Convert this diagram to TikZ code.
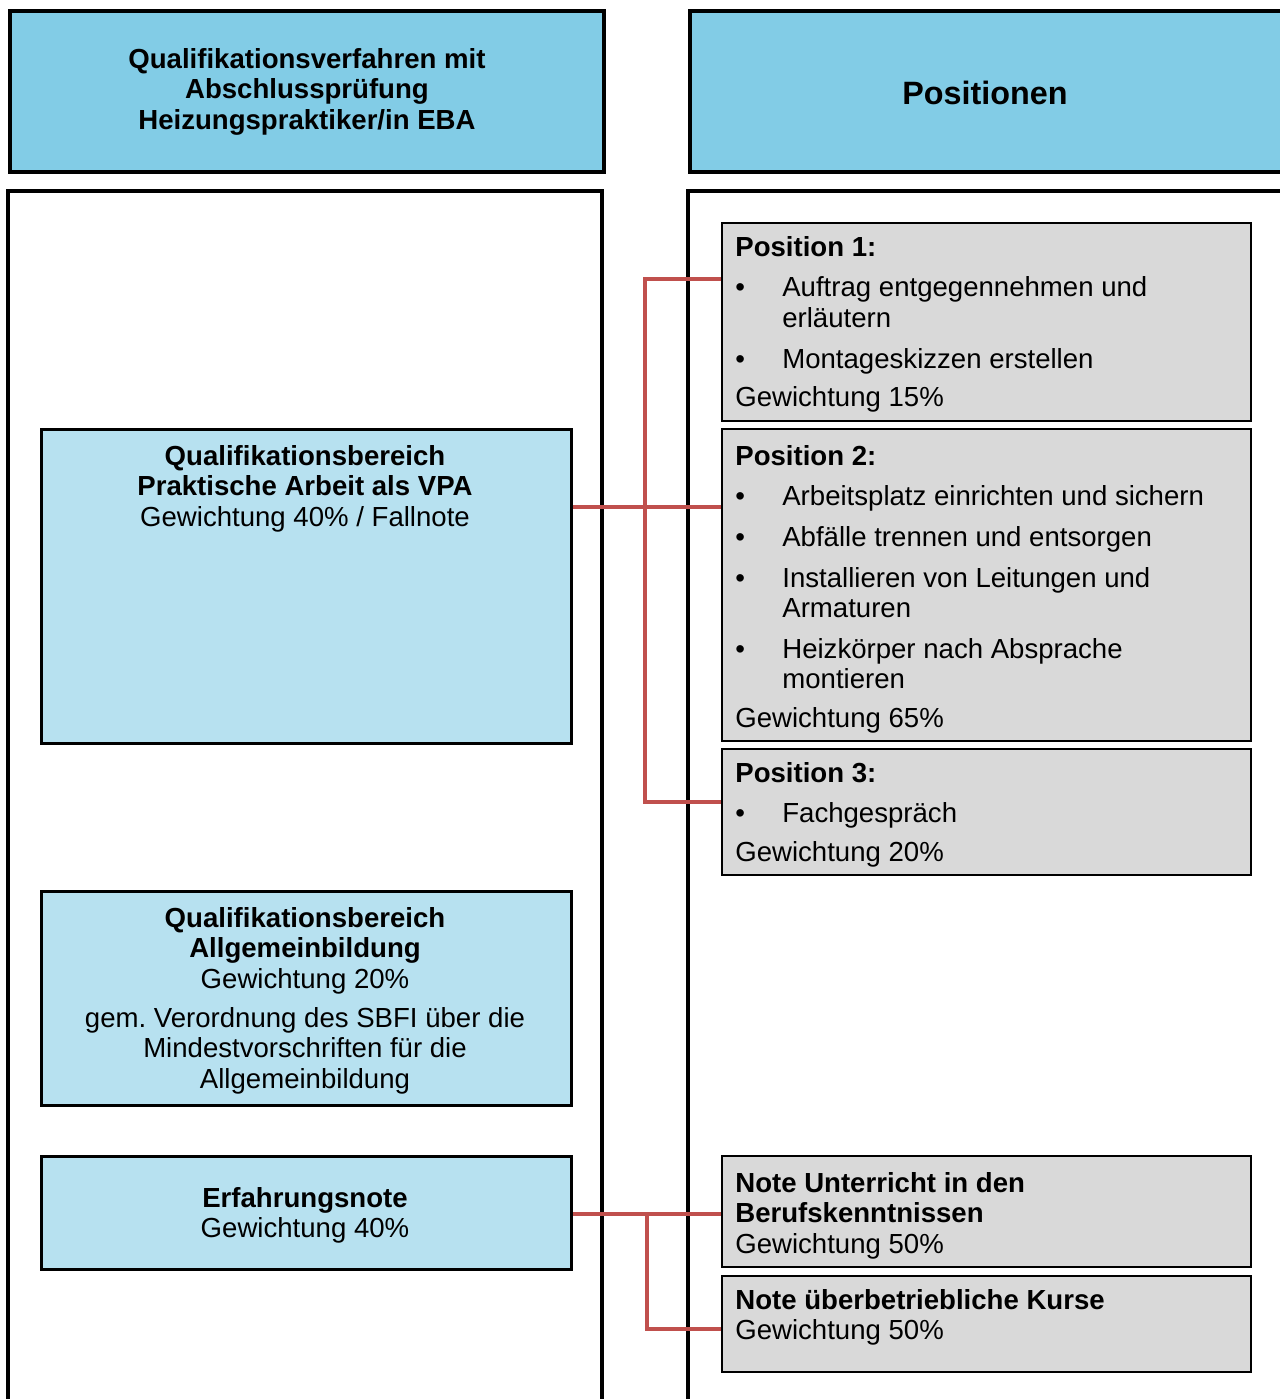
\documentclass[tikz,border=0pt]{standalone}
\usepackage{fontspec}
\setmainfont{Liberation Sans}
\frenchspacing
\definecolor{headblue}{RGB}{130,204,230}
\definecolor{boxblue}{RGB}{183,225,240}
\definecolor{posgray}{RGB}{217,217,217}
\definecolor{linkred}{RGB}{192,80,77}
\newcommand{\bul}{\makebox[0.94cm][l]{\textbullet}}
\newcommand{\ind}{\hspace*{0.94cm}}
\begin{document}
\begin{tikzpicture}[x = {(0.02cm,0cm)},
                    y = {(0cm,-0.02cm)},
                    line join = miter,
                    font = \fontsize{15.7}{17.4}\selectfont]
% styles of boxes
\tikzset{headstyle/.style={draw=black,line width=2.3pt,fill=headblue,anchor=north west,inner sep=0pt,align=center,font=\bfseries\fontsize{15.7}{17.4}\selectfont}}
\tikzset{bluestyle/.style={draw=black,line width=1.7pt,fill=boxblue,anchor=north west,inner sep=0pt,minimum width=10.6cm}}
\tikzset{graystyle/.style={draw=black,line width=1.1pt,fill=posgray,anchor=north west,inner sep=0pt,minimum width=10.58cm}}
\tikzset{textstyle/.style={inner sep=0pt,align=left,anchor=north west}}
\tikzset{midtext/.style={inner sep=0pt,align=center,anchor=north}}
\tikzset{linkstyle/.style={draw=linkred,line width=2.1pt}}
\useasboundingbox (0,0) rectangle (1279,1399);

%columns
\draw [black, line width=2.3pt] (8,1420) -- (8,191) -- (602,191) -- (602,1420);
\draw [black, line width=2.3pt] (688,1420) -- (688,191) -- (1300,191);

%headers
\node[headstyle, minimum width=11.88cm, minimum height=3.22cm] (H1) at (8,9)
  {Qualifikationsverfahren mit\\Abschlussprüfung\\Heizungspraktiker/in EBA};
\node[headstyle, minimum width=12.3cm, minimum height=3.22cm] (H2) at (688,9) {};
\node[inner sep=0pt, font=\bfseries\fontsize{18.4}{21}\selectfont] (H2txt) at (985,93) {Positionen};

%qualification areas
\node[bluestyle, minimum height=6.28cm] (Q1) at (40,428) {};
\node[bluestyle, minimum height=4.28cm] (Q2) at (40,890) {};
\node[bluestyle, minimum height=2.26cm] (Q3) at (40,1155) {};
\node[midtext] (Q1txt) at (305,445)
  {\textbf{Qualifikationsbereich}\\\textbf{Praktische Arbeit als VPA}\\Gewichtung 40\% / Fallnote};
\node[midtext] (Q2txt) at (305,907)
  {\textbf{Qualifikationsbereich}\\\textbf{Allgemeinbildung}\\Gewichtung 20\%\\[0.16cm]
   gem. Verordnung des SBFI über die\\Mindestvorschriften für die\\Allgemeinbildung};
\node[midtext] (Q3txt) at (305,1187)
  {\textbf{Erfahrungsnote}\\Gewichtung 40\%};

%positions
\node[graystyle, minimum height=3.96cm] (P1) at (721,222) {};
\node[graystyle, minimum height=6.24cm] (P2) at (721,428) {};
\node[graystyle, minimum height=2.52cm] (P3) at (721,748) {};
\node[graystyle, minimum height=2.22cm] (N1) at (721,1155) {};
\node[graystyle, minimum height=1.92cm] (N2) at (721,1275) {};
\node[textstyle] (P1txt) at (735,236)
  {\textbf{Position 1:}\\[0.2cm]
   \bul Auftrag entgegennehmen und\\
   \ind erläutern\\[0.2cm]
   \bul Montageskizzen erstellen\\[0.16cm]
   Gewichtung 15\%};
\node[textstyle] (P2txt) at (735,445)
  {\textbf{Position 2:}\\[0.2cm]
   \bul Arbeitsplatz einrichten und sichern\\[0.2cm]
   \bul Abfälle trennen und entsorgen\\[0.2cm]
   \bul Installieren von Leitungen und\\
   \ind Armaturen\\[0.2cm]
   \bul Heizkörper nach Absprache\\
   \ind montieren\\[0.16cm]
   Gewichtung 65\%};
\node[textstyle] (P3txt) at (735,762)
  {\textbf{Position 3:}\\[0.2cm]
   \bul Fachgespräch\\[0.16cm]
   Gewichtung 20\%};
\node[textstyle] (N1txt) at (735,1172)
  {\textbf{Note Unterricht in den}\\\textbf{Berufskenntnissen}\\Gewichtung 50\%};
\node[textstyle] (N2txt) at (735,1289)
  {\textbf{Note überbetriebliche Kurse}\\Gewichtung 50\%};

%connectors
\coordinate (J1) at (645,279);
\coordinate (J2) at (645,507);
\coordinate (J3) at (645,802);
\coordinate (J4) at (647,1214);
\coordinate (J5) at (647,1329);
\draw[linkstyle] (Q1.east |- J2) -- (P2.west |- J2);
\draw[linkstyle] (P1.west |- J1) -- (J1) -- (J3) -- (P3.west |- J3);
\draw[linkstyle] (Q3.east |- J4) -- (N1.west |- J4);
\draw[linkstyle] (J4) -- (J5) -- (N2.west |- J5);
\end{tikzpicture}
\end{document}
